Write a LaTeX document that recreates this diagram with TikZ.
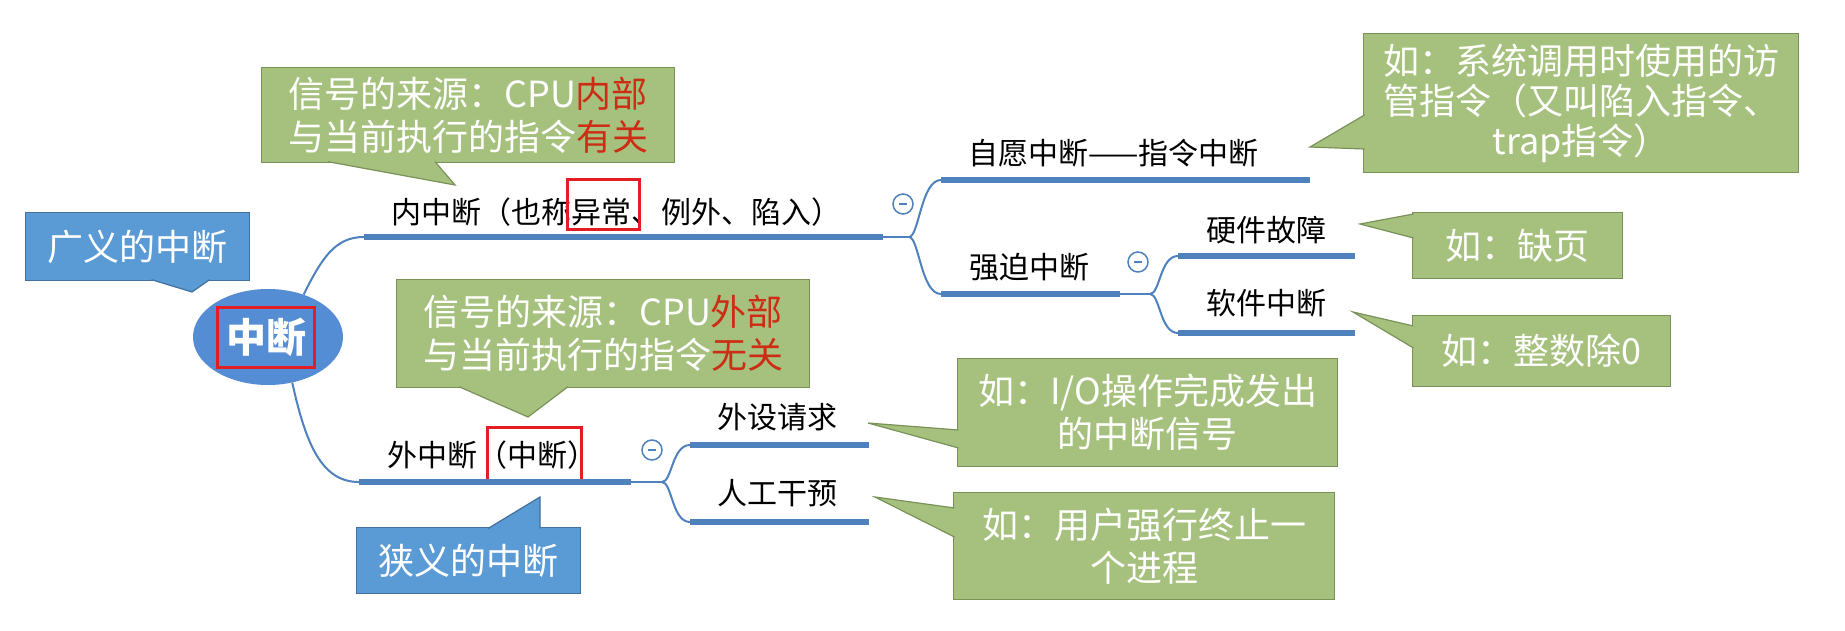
\documentclass[tikz,border=0pt]{standalone}
\usepackage{fontspec}
\setmainfont{Noto Sans CJK SC}
\usetikzlibrary{positioning,shapes.geometric}

\definecolor{mapblue}{RGB}{79,129,189}
\definecolor{rootblue}{RGB}{84,141,212}
\definecolor{noteblue}{RGB}{91,155,213}
\definecolor{noteblueline}{RGB}{65,113,156}
\definecolor{notegreen}{RGB}{166,193,126}
\definecolor{notegreenline}{RGB}{120,146,88}
\definecolor{hotred}{RGB}{204,45,20}
\definecolor{marker}{RGB}{226,30,36}

\begin{document}
\begin{tikzpicture}[x=1pt,y=-1pt,
  lbl/.style={anchor=west, inner sep=0pt, font=\fontsize{30}{36}\selectfont},
  gnote/.style={anchor=north west, fill=notegreen, draw=notegreenline, line width=1.2pt,
                text=white, align=center, inner sep=0pt, font=\fontsize{36}{43}\selectfont},
  gtail/.style={fill=notegreen, draw=notegreenline, line width=1.2pt},
  bnote/.style={anchor=north west, fill=noteblue, draw=noteblueline, line width=1.2pt,
                text=white, inner sep=0pt, font=\fontsize{36}{43}\selectfont},
  btail/.style={fill=noteblue, draw=noteblueline, line width=1.2pt},
  uline/.style={draw=mapblue, line width=6pt},
  twig/.style={draw=mapblue, line width=2pt},
  foldbtn/.style={circle, draw=mapblue, fill=white, line width=1.5pt, minimum size=20pt,
                  inner sep=0pt, text=mapblue},
  redbox/.style={draw=marker, line width=3pt}
]
\fill[white] (0,0) rectangle (1845,631);
\useasboundingbox (0,0) rectangle (1845,631);

% root
\node[ellipse, fill=rootblue, minimum width=150pt, minimum height=96pt] (root) at (268,337) {};
\node[redbox, text=white, font=\bfseries\fontsize{40}{40}\selectfont, minimum width=97pt,
      minimum height=60pt, inner sep=0pt] (rootname) at (266,337) {中断};

% labels
\node[lbl] (inner) at (391,212) {内中断（也称异常、例外、陷入）};
\node[lbl] (vol) at (968,153) {自愿中断——指令中断};
\node[lbl] (force) at (969,267) {强迫中断};
\node[lbl] (hw) at (1206,230) {硬件故障};
\node[lbl] (sw) at (1206,303) {软件中断};
\node[lbl] (outer) at (387,455) {外中断（中断）};
\node[lbl] (dev) at (717,417) {外设请求};
\node[lbl] (man) at (717,493) {人工干预};
\draw[redbox] (567,180) rectangle (639,230);
\draw[redbox] (487,427) rectangle (581,480);

% underlines
\coordinate (innerA) at (364,237); \coordinate (innerB) at (883,237);
\coordinate (volA) at (941,180);    \coordinate (volB) at (1310,180);
\coordinate (forceA) at (941,294);  \coordinate (forceB) at (1120,294);
\coordinate (hwA) at (1178,256);    \coordinate (hwB) at (1355,256);
\coordinate (swA) at (1178,333);    \coordinate (swB) at (1355,333);
\coordinate (outerA) at (359,482);  \coordinate (outerB) at (631,482);
\coordinate (devA) at (690,445);    \coordinate (devB) at (869,445);
\coordinate (manA) at (690,522);    \coordinate (manB) at (869,522);
\foreach \b in {inner,vol,force,hw,sw,outer,dev,man}
  \draw[uline] (\b A) -- (\b B);

% branches
\coordinate (j1) at (909,237);
\coordinate (j2) at (1150,294);
\coordinate (j3) at (662,482);
\draw[twig] (root.50) .. controls (322,258) and (335,237) .. (innerA);
\draw[twig] (root.-62) .. controls (306,445) and (322,482) .. (outerA);
\draw[twig] (innerB) -- (j1);
\draw[twig] (j1) .. controls +(10,0) and +(-20,0) .. (volA);
\draw[twig] (j1) .. controls +(10,0) and +(-20,0) .. (forceA);
\draw[twig] (forceB) -- (j2);
\draw[twig] (j2) .. controls +(10,0) and +(-18,0) .. (hwA);
\draw[twig] (j2) .. controls +(10,0) and +(-18,0) .. (swA);
\draw[twig] (outerB) -- (j3);
\draw[twig] (j3) .. controls +(10,0) and +(-18,0) .. (devA);
\draw[twig] (j3) .. controls +(10,0) and +(-18,0) .. (manA);

\node[foldbtn] (fold1) at (903,204) {\rule{8pt}{1.8pt}};
\node[foldbtn] (fold2) at (1138,262) {\rule{8pt}{1.8pt}};
\node[foldbtn] (fold3) at (652,450) {\rule{8pt}{1.8pt}};

% notes
\node[bnote, minimum width=224pt, minimum height=68pt] (wide) at (24.6,212) {广义的中断};
\coordinate (wideTip) at (192,292);
\filldraw[btail] ([xshift=127pt,yshift=1.5pt]wide.south west) -- (wideTip) -- ([xshift=185pt,yshift=1.5pt]wide.south west);

\node[bnote, minimum width=224pt, minimum height=66pt] (narrow) at (356,527) {狭义的中断};
\coordinate (narrowTip) at (540,497);
\filldraw[btail] ([xshift=132pt,yshift=-1.5pt]narrow.north west) -- (narrowTip) -- ([xshift=184pt,yshift=-1.5pt]narrow.north west);

\node[gnote, minimum width=413pt, minimum height=95pt] (srcin) at (261,67)
  {信号的来源：CPU{\color{hotred}内部}\\与当前执行的指令{\color{hotred}有关}};
\coordinate (srcinTip) at (455,185);
\filldraw[gtail] ([xshift=67pt,yshift=1.5pt]srcin.south west) -- (srcinTip) -- ([xshift=174pt,yshift=1.5pt]srcin.south west);

\node[gnote, minimum width=413pt, minimum height=108pt] (srcout) at (396,279)
  {信号的来源：CPU{\color{hotred}外部}\\与当前执行的指令{\color{hotred}无关}};
\coordinate (srcoutTip) at (528,417);
\filldraw[gtail] ([xshift=63pt,yshift=1.5pt]srcout.south west) -- (srcoutTip) -- ([xshift=172pt,yshift=1.5pt]srcout.south west);

\node[gnote, minimum width=435pt, minimum height=139pt, font=\fontsize{36}{40}\selectfont] (trap) at (1363,33)
  {如：系统调用时使用的访\\管指令（又叫陷入指令、\\trap指令）};
\coordinate (trapTip) at (1310,147);
\filldraw[gtail] ([xshift=1.5pt,yshift=-82pt]trap.north west) -- (trapTip) -- ([xshift=1.5pt,yshift=-116pt]trap.north west);

\node[gnote, minimum width=210pt, minimum height=66pt] (page) at (1412,212) {如：缺页};
\coordinate (pageTip) at (1360,224);
\filldraw[gtail] ([xshift=1.5pt,yshift=-2pt]page.north west) -- (pageTip) -- ([xshift=1.5pt,yshift=-26pt]page.north west);

\node[gnote, minimum width=258pt, minimum height=71pt] (div) at (1412,315) {如：整数除0};
\coordinate (divTip) at (1353,312);
\filldraw[gtail] ([xshift=1.5pt,yshift=-11pt]div.north west) -- (divTip) -- ([xshift=1.5pt,yshift=-33pt]div.north west);

\node[gnote, minimum width=380pt, minimum height=108pt] (io) at (957,358)
  {如：I/O操作完成发出\\的中断信号};
\coordinate (ioTip) at (868,423);
\filldraw[gtail] ([xshift=1.5pt,yshift=-72pt]io.north west) -- (ioTip) -- ([xshift=1.5pt,yshift=-90pt]io.north west);

\node[gnote, minimum width=381pt, minimum height=107pt] (kill) at (953,492)
  {如：用户强行终止一\\个进程};
\coordinate (killTip) at (875,497);
\filldraw[gtail] ([xshift=1.5pt,yshift=-16pt]kill.north west) -- (killTip) -- ([xshift=1.5pt,yshift=-45pt]kill.north west);
\end{tikzpicture}
\end{document}
